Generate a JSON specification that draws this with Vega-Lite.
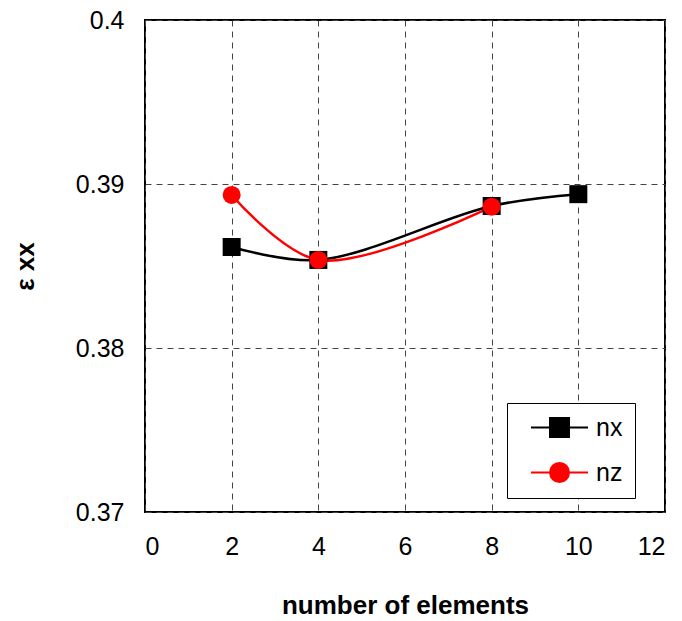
{
  "$schema": "https://vega.github.io/schema/vega-lite/v6.json",
  "autosize": {"type": "none"},
  "width": 520,
  "height": 492,
  "padding": {"left": 145, "top": 20, "right": 17, "bottom": 109},
  "background": "white",
  "config": {
    "view": {"stroke": "black", "strokeWidth": 2},
    "font": "Liberation Sans",
    "axis": {
      "domain": false,
      "ticks": false,
      "grid": true,
      "gridColor": "#444",
      "gridDash": [6, 5],
      "gridWidth": 1,
      "labelFont": "Liberation Sans",
      "labelFontSize": 25,
      "labelColor": "black",
      "titleFont": "Liberation Sans",
      "titleFontSize": 26,
      "titleFontWeight": "bold",
      "titleColor": "black"
    }
  },
  "data": {
    "values": [
      {"series": "nx", "n": 2, "strain": 0.38616},
      {"series": "nx", "n": 4, "strain": 0.38537},
      {"series": "nx", "n": 8, "strain": 0.38866},
      {"series": "nx", "n": 10, "strain": 0.38938},
      {"series": "nz", "n": 2, "strain": 0.38933},
      {"series": "nz", "n": 4, "strain": 0.38537},
      {"series": "nz", "n": 8, "strain": 0.38862}
    ]
  },
  "encoding": {
    "x": {
      "field": "n",
      "type": "quantitative",
      "scale": {"domain": [0, 12], "nice": false, "zero": false},
      "axis": {"values": [0, 2, 4, 6, 8, 10, 12], "labelPadding": 22, "title": "number of elements", "titlePadding": 33}
    },
    "y": {
      "field": "strain",
      "type": "quantitative",
      "scale": {"domain": [0.37, 0.4], "nice": false, "zero": false},
      "axis": {"values": [0.37, 0.38, 0.39, 0.4], "labelExpr": "format(datum.value, '~g')", "labelPadding": 21, "title": "ε xx", "titlePadding": 37}
    },
    "color": {
      "field": "series",
      "type": "nominal",
      "scale": {"domain": ["nx", "nz"], "range": ["black", "#ff0000"]},
      "legend": {
        "title": null,
        "orient": "none",
        "legendX": 362,
        "legendY": 383,
        "strokeColor": "black",
        "fillColor": "white",
        "padding": 12,
        "symbolSize": 361,
        "symbolStrokeWidth": 2,
        "labelFontSize": 25,
        "labelFont": "Liberation Sans",
        "labelColor": "black",
        "labelOffset": 24,
        "symbolOffset": 28,
        "rowPadding": 18,
        "encode": {
          "symbols": {
            "update": {
              "shape": {"signal": "datum.value === 'nx' ? 'M-3,0H3M-1,-1H1V1H-1Z' : 'M-3,0H3M-1,0A1,1 0 1,0 1,0A1,1 0 1,0 -1,0Z'"},
              "fill": {"signal": "datum.value === 'nx' ? 'black' : '#ff0000'"},
              "stroke": {"signal": "datum.value === 'nx' ? 'black' : '#ff0000'"},
              "strokeWidth": {"value": 2},
              "opacity": {"value": 1}
            }
          }
        }
      }
    }
  },
  "layer": [
    {
      "mark": {"type": "line", "interpolate": "catmull-rom", "strokeWidth": 2.5}
    },
    {
      "transform": [{"filter": "datum.series === 'nx'"}],
      "mark": {"type": "point", "shape": "square", "filled": true, "opacity": 1, "size": 324}
    },
    {
      "transform": [{"filter": "datum.series === 'nz'"}],
      "mark": {"type": "point", "shape": "circle", "filled": true, "opacity": 1, "size": 324}
    }
  ]
}
